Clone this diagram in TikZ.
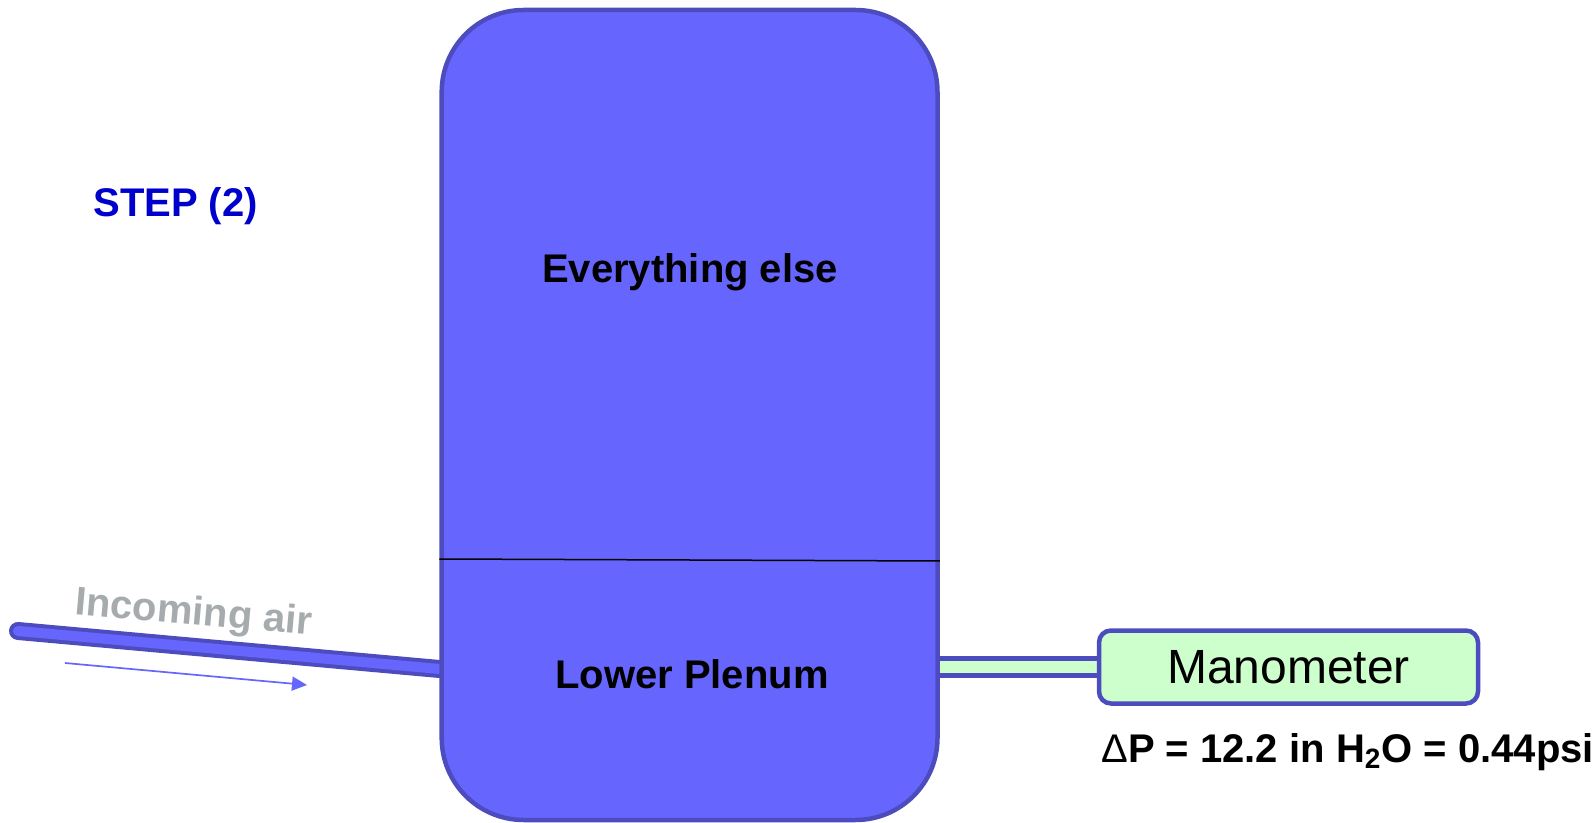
\documentclass[tikz,border=0pt]{standalone}
\usepackage{fontspec}
\setmainfont{Liberation Sans}
\usetikzlibrary{arrows.meta,backgrounds}
\definecolor{tankfill}{HTML}{6666FF}
\definecolor{rim}{HTML}{4C4CBF}
\definecolor{meterfill}{HTML}{CCFFCC}
\definecolor{steptext}{HTML}{0000CC}
\definecolor{airtext}{HTML}{A6ABAE}

\begin{document}
\begin{tikzpicture}[
    x=0.5pt, y=-0.5pt,
    font=\fontsize{20}{24}\selectfont\bfseries,
    tank/.style={draw=rim, fill=tankfill, line width=2.25pt, rounded corners=41pt,
        minimum width=247.9pt, minimum height=405pt, inner sep=0pt},
    gauge/.style={draw=rim, fill=meterfill, line width=2.25pt, rounded corners=6pt,
        minimum width=189.5pt, minimum height=36.5pt, inner sep=0pt,
        font=\fontsize{24}{28}\selectfont},
    pipe/.style={draw=rim, line width=2pt, double=tankfill, double distance=5pt, line cap=round},
    tube/.style={draw=rim, line width=2.5pt, double=meterfill, double distance=6pt},
    lbl/.style={inner sep=0pt, anchor=base},
    ]
    \useasboundingbox (0,0) rectangle (1596,823);

    \node at(689.6,415) [tank](vessel){};
    \draw[line width=0.75pt] (vessel.west |- 0,559) -- (vessel.east |- 0,561);
    \node at(690,283) [lbl](upper){Everything else};
    \node at(692,688) [lbl](plenum){Lower Plenum};

    \node at(93,217) [lbl, anchor=base west, text=steptext](stage){STEP (2)};

    \node at(1288.5,667) [gauge](manometer){Manometer};
    \node at(1101,762) [lbl, anchor=base west](reading){{\mdseries Δ}P = 12.2 in H\textsubscript{2}O = 0.44psi};

    % air inlet
    \coordinate (inlet) at (18,631);
    \coordinate (flowstart) at (65,663);
    \coordinate (flowend) at (307,685);
    \node at(74,614) [lbl, anchor=base west, rotate=-5.1, text=airtext](airlabel){Incoming air};
    \draw[-{Triangle[length=7.5pt,width=7pt]}, draw=tankfill, fill=tankfill, line width=0.85pt] (flowstart) -- (flowend);

    \begin{scope}[on background layer]
        \draw[pipe] (inlet) -- (vessel.west |- 0,669);
        \draw[tube] (vessel.east |- manometer.west) -- (manometer.west);
    \end{scope}
\end{tikzpicture}
\end{document}
